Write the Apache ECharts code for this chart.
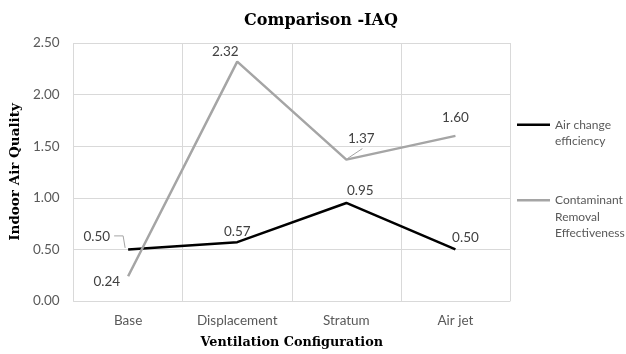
<!DOCTYPE html>
<html><head><meta charset="utf-8">
<script src="https://cdn.jsdelivr.net/npm/echarts@6/dist/echarts.min.js"></script>
<style>html,body{margin:0;padding:0;background:#fff}#c{width:626px;height:354px}</style>
</head><body><div id="c"></div>
<script>
const categories = ['Base', 'Displacement', 'Stratum', 'Air jet'];
const airChange = [0.50, 0.57, 0.95, 0.50];
const contaminant = [0.24, 2.32, 1.37, 1.60];
const yTicks = { min: 0, max: 2.5, interval: 0.5 };
const seriesNames = ['Air change efficiency', 'Contaminant Removal Effectiveness'];

const SANS = 'Lato';
const lblFont = { color: '#404040', fontSize: 13.5, fontFamily: SANS };
// per-point label placement (style only)
const acePos = [
  { position: 'left', offset: [-13, -13] },
  { position: 'top', offset: [0, 1] },
  { position: 'top', offset: [14, 0] },
  { position: 'top', offset: [10, 0] }
];
const crePos = [
  { position: 'left', offset: [-3, 5] },
  { position: 'top', offset: [-12, 2] },
  { position: 'top', offset: [15, -9] },
  { position: 'top', offset: [0, -6] }
];

const chart = echarts.init(document.getElementById('c'), null, { renderer: 'canvas' });
chart.setOption({
  animation: false,
  backgroundColor: '#fff',
  title: {
    text: 'Comparison -IAQ', left: 316, textAlign: 'center', top: 8,
    textStyle: { fontFamily: 'DejaVu Serif', fontWeight: 'bold', fontSize: 16, color: '#000' }
  },
  legend: [
    {
      data: [seriesNames[0]], orient: 'vertical', left: 517, top: 100, padding: 0,
      icon: 'rect', itemWidth: 33, itemHeight: 2.5,
      formatter: () => '\nAir change\nefficiency',
      textStyle: { fontFamily: SANS, fontSize: 12, color: '#595959', lineHeight: 16.5 }
    },
    {
      data: [seriesNames[1]], orient: 'vertical', left: 517, top: 159, padding: 0,
      icon: 'rect', itemWidth: 33, itemHeight: 2.5,
      formatter: () => '\n\nContaminant\nRemoval\nEffectiveness',
      textStyle: { fontFamily: SANS, fontSize: 12, color: '#595959', lineHeight: 16.5 }
    }
  ],
  grid: { left: 73, right: 116, top: 43, bottom: 51.5, containLabel: false },
  xAxis: {
    type: 'category', data: categories, boundaryGap: true,
    name: 'Ventilation Configuration', nameLocation: 'middle', nameGap: 35,
    nameTextStyle: { fontFamily: 'DejaVu Serif', fontWeight: 'bold', fontSize: 12.8, color: '#000' },
    axisLine: { show: true, lineStyle: { color: '#d9d9d9', width: 1 } },
    axisTick: { show: false },
    axisLabel: { margin: 13, color: '#595959', fontSize: 13.5, fontFamily: SANS },
    splitLine: { show: true, lineStyle: { color: '#d9d9d9', width: 1 } }
  },
  yAxis: {
    type: 'value', min: yTicks.min, max: yTicks.max, interval: yTicks.interval,
    name: 'Indoor Air Quality', nameLocation: 'middle', nameGap: 41, nameRotate: 90,
    nameTextStyle: { fontFamily: 'DejaVu Serif', fontWeight: 'bold', fontSize: 13.5, color: '#000' },
    axisLine: { show: false }, axisTick: { show: false },
    axisLabel: { margin: 14, color: '#595959', fontSize: 13.5, fontFamily: SANS, formatter: v => v.toFixed(2) },
    splitLine: { show: true, lineStyle: { color: '#d9d9d9', width: 1 } }
  },
  series: [
    {
      name: seriesNames[0], type: 'line', symbol: 'circle', symbolSize: 0, showSymbol: true, z: 3,
      lineStyle: { color: '#000', width: 2.5 }, itemStyle: { color: '#000' },
      data: airChange.map((v, i) => ({ value: v, label: Object.assign({ show: true, formatter: p => p.value.toFixed(2) }, lblFont, acePos[i]) }))
    },
    {
      name: seriesNames[1], type: 'line', symbol: 'circle', symbolSize: 0, showSymbol: true, z: 4,
      lineStyle: { color: '#a5a5a5', width: 2.5 }, itemStyle: { color: '#a5a5a5' },
      data: contaminant.map((v, i) => ({ value: v, label: Object.assign({ show: true, formatter: p => p.value.toFixed(2) }, lblFont, crePos[i]) }))
    }
  ]
});

// leader lines for the two moved data labels, anchored to the library's pixel position of the point
const pA = chart.convertToPixel({ seriesIndex: 0 }, [0, airChange[0]]);
const pC = chart.convertToPixel({ seriesIndex: 1 }, [2, contaminant[2]]);
const guideStyle = { stroke: '#a5a5a5', lineWidth: 1, fill: null };
chart.setOption({
  graphic: [
    { type: 'polyline', z: 10, silent: true, shape: { points: [[pA[0] - 14, pA[1] - 13.5], [pA[0] - 5, pA[1] - 13.5], [pA[0] - 3, pA[1] - 1.5]] }, style: guideStyle },
    { type: 'polyline', z: 10, silent: true, shape: { points: [[pC[0] + 1, pC[1] - 1], [pC[0] + 16, pC[1] - 11]] }, style: guideStyle }
  ]
});
</script></body></html>
